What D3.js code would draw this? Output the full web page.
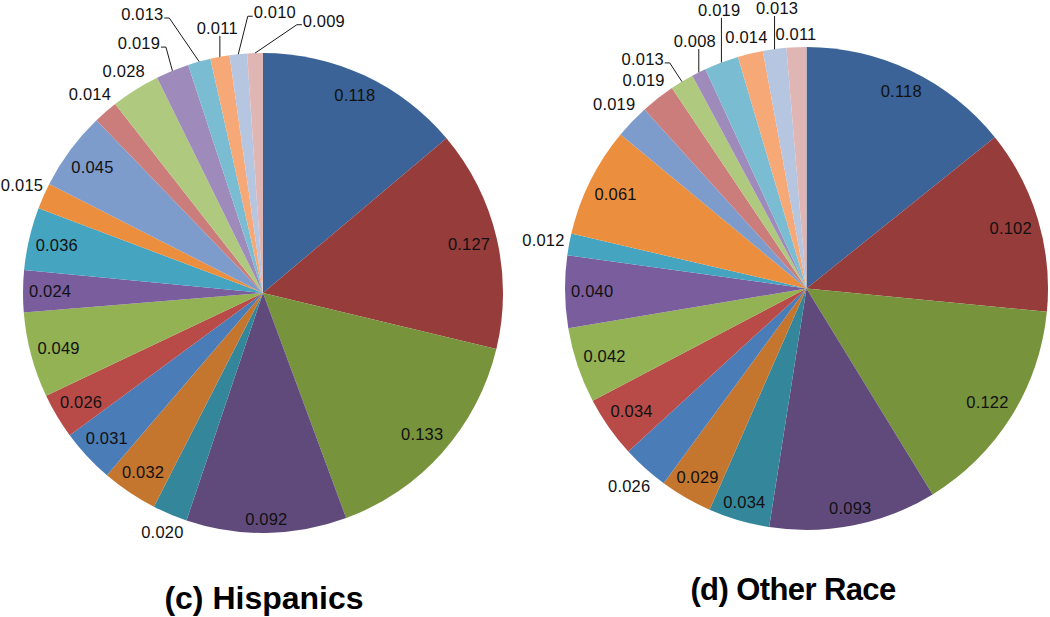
<!DOCTYPE html>
<html>
<head>
<meta charset="utf-8">
<script src="https://cdn.jsdelivr.net/npm/d3@7/dist/d3.min.js"></script>
<style>
  html, body { margin: 0; padding: 0; background: #ffffff; }
  svg { display: block; }
</style>
</head>
<body>
<svg id="chart" width="1050" height="617"></svg>
<script>
// ---------------- data ----------------
const categories = ["C1","C2","C3","C4","C5","C6","C7","C8","C9","C10",
                    "C11","C12","C13","C14","C15","C16","C17","C18","C19","C20"];
const hispanicsValues = [0.118, 0.127, 0.133, 0.092, 0.020, 0.032, 0.031, 0.026, 0.049, 0.024,
                         0.036, 0.015, 0.045, 0.014, 0.028, 0.019, 0.013, 0.011, 0.010, 0.009];
const otherRaceValues = [0.118, 0.102, 0.122, 0.093, 0.034, 0.029, 0.026, 0.034, 0.042, 0.040,
                         0.012, 0.061, 0.019, 0.019, 0.013, 0.008, 0.019, 0.014, 0.013, 0.011];
const titles = ["(c) Hispanics", "(d) Other Race"];

// ---------------- styles / layout ----------------
const sliceColors = ["#3B6397", "#963C3A", "#77933C", "#604A7B", "#34879B", "#C4762F",
                     "#4A7CB8", "#B84B48", "#93B254", "#7A5D9C", "#45A5C0", "#EB8F3F",
                     "#7D9CCC", "#CB7D7C", "#AFC97F", "#9E8BBB", "#7ABDD2", "#F7A877",
                     "#B6C5E0", "#E0B6B5"];
// label placement: in = inside slice, out = just outside, lead = with leader line
const hispanicsPlacement = ["in","in","in","in","out","in","in","in","in","in",
                            "in","out","in","out","out","lead","lead","lead","lead","lead"];
const otherRacePlacement = ["in","in","in","in","in","in","out","in","in","in",
                            "out","in","out","out","lead","lead","lead","out","lead","out"];
// leader label positions: slice index -> [angle in degrees, distance from centre]
const hispanicsLeaders = {15: [333.6, 279], 16: [336.6, 304], 17: [350.2, 269], 18: [2.4, 281], 19: [12.6, 279]};
const otherRaceLeaders = {14: [324.5, 282], 15: [335.7, 271.5], 16: [342.6, 292], 18: [354, 282]};

const pies = [
  {values: hispanicsValues, placement: hispanicsPlacement, leaders: hispanicsLeaders,
   cx: 263, cy: 293, r: 240, title: titles[0], tx: 264, ty: 609, tsize: 32, tspace: 0},
  {values: otherRaceValues, placement: otherRacePlacement, leaders: otherRaceLeaders,
   cx: 806.5, cy: 288.5, r: 241.5, title: titles[1], tx: 793, ty: 600, tsize: 31, tspace: -0.6}
];

const svg = d3.select("#chart");
const fmt = d3.format(".3f");
const color = d3.scaleOrdinal().domain(categories).range(sliceColors);
const labelFont = "'Liberation Sans', Arial, sans-serif";
const HW = 21, HH = 8;   // half width / half height of a value label
const W = 1050;

pies.forEach(p => {
  const data = p.values.map((v, i) => ({cat: categories[i], value: v, idx: i}));
  const pie = d3.pie().sort(null).value(d => d.value);
  const arcs = pie(data);
  const arc = d3.arc().innerRadius(0).outerRadius(p.r);
  const g = svg.append("g").attr("transform", `translate(${p.cx},${p.cy})`);

  g.selectAll("path.slice").data(arcs).join("path")
    .attr("class", "slice")
    .attr("d", arc)
    .attr("fill", d => color(d.data.cat));

  const pt = (ang, rad) => [rad * Math.sin(ang), -rad * Math.cos(ang)];

  arcs.forEach(a => {
    const mid = (a.startAngle + a.endAngle) / 2;
    const ext = HW * Math.abs(Math.sin(mid)) + HH * Math.abs(Math.cos(mid));
    const mode = p.placement[a.data.idx];
    let lx, ly;
    if (mode === "in") {
      [lx, ly] = pt(mid, p.r - 6 - ext);
    } else if (mode === "out") {
      [lx, ly] = pt(mid, p.r + 4 + ext);
    } else {
      const lp = p.leaders[a.data.idx];
      [lx, ly] = pt(lp[0] * Math.PI / 180, lp[1]);
      const [ax, ay] = pt(mid, p.r);
      const left = lx - HW, right = lx + HW;
      let pts;
      if (ax < left) {
        pts = [[left - 1, ly + 4], [left - 6, ly + 4], [ax, ay]];
      } else if (ax > right) {
        pts = [[right + 1, ly + 4], [right + 6, ly + 4], [ax, ay]];
      } else {
        pts = [[ax, ly + HH], [ax, ay]];
      }
      g.append("path")
        .attr("d", d3.line()(pts))
        .attr("fill", "none")
        .attr("stroke", "#1a1a1a")
        .attr("stroke-width", 1);
    }
    // keep labels inside the picture
    const absX = Math.max(HW + 1, Math.min(W - HW - 1, p.cx + lx));
    lx = absX - p.cx;
    g.append("text")
      .attr("x", lx)
      .attr("y", ly + 6)
      .attr("text-anchor", "middle")
      .attr("font-family", labelFont)
      .attr("font-size", 16.5)
      .attr("letter-spacing", 0.2)
      .attr("fill", "#111")
      .text(fmt(a.data.value));
  });

  svg.append("text")
    .attr("x", p.tx)
    .attr("y", p.ty)
    .attr("text-anchor", "middle")
    .attr("font-family", labelFont)
    .attr("font-weight", "bold")
    .attr("font-size", p.tsize)
    .attr("letter-spacing", p.tspace)
    .attr("fill", "#000")
    .text(p.title);
});
</script>
</body>
</html>
